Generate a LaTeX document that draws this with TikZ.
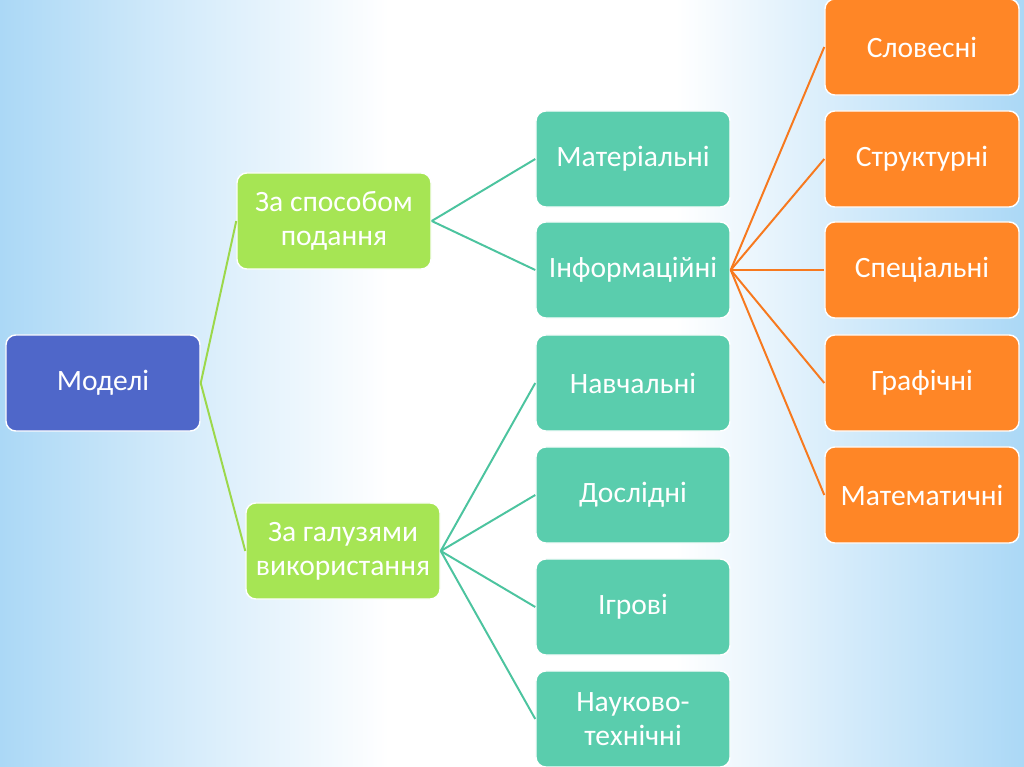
\documentclass[tikz,border=0pt]{standalone}
\usepackage{fontspec}
\setmainfont{Carlito}
\usetikzlibrary{positioning}
\definecolor{modBlue}{HTML}{4F67C9}
\definecolor{modLime}{HTML}{A6E554}
\definecolor{modTeal}{HTML}{5ACDAD}
\definecolor{modOrange}{HTML}{FF8626}
\definecolor{lineLime}{HTML}{9CD84A}
\definecolor{lineTeal}{HTML}{4CC49F}
\definecolor{lineOrange}{HTML}{F7791E}
\definecolor{bgBlue}{HTML}{ABD8F6}
\pgfdeclarehorizontalshading{bgSides}{100bp}{color(0bp)=(bgBlue); color(25bp)=(bgBlue); color(33bp)=(bgBlue!55!white); color(44bp)=(white); color(58bp)=(white); color(67bp)=(bgBlue!55!white); color(75bp)=(bgBlue); color(100bp)=(bgBlue)}

\begin{document}
\begin{tikzpicture}[x=0.025cm, y=-0.025cm, font=\fontsize{21}{24}\selectfont,
  box/.style={draw=white, line width=1pt, rounded corners=7pt, minimum width=4.85cm, minimum height=2.4cm, text=white, align=center, inner sep=2pt},
  link/.style={line width=1.4pt}]
% --- background ---
\useasboundingbox (0,0) rectangle (1024,767);
\shade[shading=bgSides] (0,0) rectangle (1024,767);
% --- root and the two groups ---
\node[box, fill=modBlue] (models) at (103,383) {Моделі};
\node[box, fill=modLime] (byForm) at (334,221) {За способом\\подання};
\node[box, fill=modLime] (byField) at (343,551) {За галузями\\використання};
% --- teal column ---
\node[box, fill=modTeal] (material) at (633,159) {Матеріальні};
\node[box, fill=modTeal] (inform) at (633,270) {Інформаційні};
\node[box, fill=modTeal] (study) at (633,383) {Навчальні};
\node[box, fill=modTeal] (research) at (633,495) {Дослідні};
\node[box, fill=modTeal] (game) at (633,607) {Ігрові};
\node[box, fill=modTeal] (sciTech) at (633,719) {Науково-\\технічні};
% --- orange column ---
\node[box, fill=modOrange] (verbal) at (922,47) {Словесні};
\node[box, fill=modOrange] (struct) at (922,159) {Структурні};
\node[box, fill=modOrange] (special) at (922,270) {Спеціальні};
\node[box, fill=modOrange] (graphic) at (922,383) {Графічні};
\node[box, fill=modOrange] (math) at (922,495) {Математичні};
% --- connectors ---
\draw[link, lineLime] (models.east) -- (byForm.west);
\draw[link, lineLime] (models.east) -- (byField.west);
\foreach \t in {material, inform}
  \draw[link, lineTeal] (byForm.east) -- (\t.west);
\foreach \t in {study, research, game, sciTech}
  \draw[link, lineTeal] (byField.east) -- (\t.west);
\foreach \t in {verbal, struct, special, graphic, math}
  \draw[link, lineOrange] (inform.east) -- (\t.west);
\end{tikzpicture}
\end{document}
